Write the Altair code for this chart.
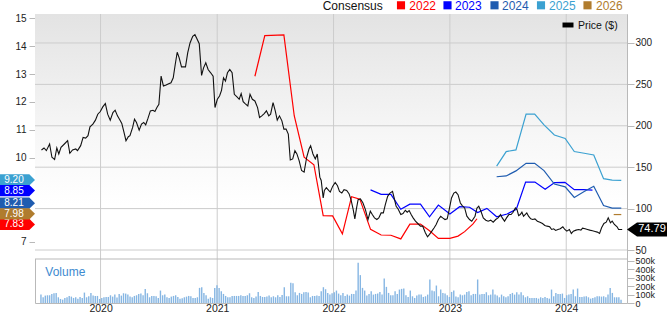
import altair as alt
import pandas as pd

# ---------------- data ----------------
# price line: decimal-year dates and prices ($)
price_t = [2019.492,2019.514,2019.534,2019.562,2019.582,2019.605,2019.624,2019.641,2019.660,2019.689,
           2019.717,2019.736,2019.759,2019.787,2019.802,2019.829,2019.850,2019.872,2019.892,2019.909,
           2019.934,2019.956,2019.976,2019.998,2020.019,2020.041,2020.061,2020.083,2020.106,2020.125,
           2020.145,2020.167,2020.182,2020.201,2020.218,2020.238,2020.252,2020.275,2020.291,2020.308,
           2020.331,2020.351,2020.370,2020.387,2020.407,2020.427,2020.449,2020.466,2020.483,2020.500,
           2020.519,2020.539,2020.562,2020.584,2020.604,2020.623,2020.640,2020.657,2020.674,2020.694,
           2020.728,2020.747,2020.767,2020.790,2020.809,2020.826,2020.846,2020.866,2020.883,2020.902,
           2020.922,2020.944,2020.965,2020.981,2021.001,2021.020,2021.037,2021.054,2021.071,2021.088,
           2021.108,2021.128,2021.147,2021.170,2021.189,2021.206,2021.223,2021.240,2021.263,2021.282,
           2021.302,2021.324,2021.347,2021.364,2021.383,2021.404,2021.423,2021.443,2021.459,2021.480,
           2021.499,2021.516,2021.535,2021.556,2021.573,2021.592,2021.611,2021.628,2021.649,2021.668,
           2021.685,2021.704,2021.725,2021.747,2021.769,2021.789,2021.803,2021.823,2021.843,2021.860,
           2021.882,2021.894,2021.911,2021.921,2021.938,2021.958,2021.972,
           2021.992,2022.014,2022.034,2022.051,2022.071,2022.090,2022.113,2022.133,2022.150,2022.169,
           2022.183,2022.198,2022.211,2022.231,2022.253,2022.274,2022.296,2022.316,2022.333,2022.352,
           2022.372,2022.389,2022.409,2022.428,2022.445,2022.465,2022.485,2022.507,2022.521,2022.538,
           2022.555,2022.578,2022.597,2022.617,2022.633,2022.650,2022.667,2022.684,2022.704,2022.724,
           2022.747,2022.766,2022.789,2022.808,2022.825,2022.845,2022.865,2022.882,2022.901,2022.921,
           2022.938,2022.958,2022.977,2022.994,2023.014,2023.034,2023.051,2023.070,2023.090,2023.106,
           2023.127,2023.146,2023.169,2023.188,
           2023.216,2023.233,2023.248,2023.267,2023.287,2023.309,2023.329,2023.351,2023.372,2023.394,
           2023.414,2023.436,2023.450,2023.470,2023.487,2023.507,2023.526,2023.543,2023.563,2023.577,
           2023.591,2023.605,2023.619,2023.633,2023.647,2023.661,2023.676,2023.695,2023.712,2023.731,
           2023.752,2023.774,2023.796,2023.816,2023.836,2023.858,2023.875,2023.892,2023.909,2023.929,
           2023.949,2023.971,2023.988,2024.005,2024.027,2024.044,2024.061,2024.084,2024.106,2024.126,
           2024.140,2024.162,2024.182,2024.202,2024.225,2024.247,2024.267,2024.286,2024.303,2024.323,
           2024.343,2024.360,2024.379,2024.394,2024.413,2024.436,2024.449,2024.470,2024.480]
price_v = [170.8,173.2,170.0,178.0,162.0,159.2,173.2,166.0,174.0,178.0,
           182.0,166.8,170.8,172.0,170.0,176.0,186.0,185.2,188.0,198.8,
           202.0,206.8,214.0,217.2,222.8,226.8,214.0,206.8,216.0,218.8,
           212.0,206.8,202.8,192.0,182.0,186.8,188.0,198.0,208.0,204.0,
           194.8,202.0,204.0,201.2,209.2,218.0,218.8,217.2,222.0,226.0,
           260.0,248.0,249.2,250.8,252.0,258.0,274.0,288.8,282.0,271.2,
           271.2,288.0,300.0,308.0,310.0,305.2,299.2,260.8,270.0,276.0,
           268.0,264.0,260.0,222.0,232.0,236.0,242.8,258.0,254.0,264.0,
           268.0,264.0,238.0,234.8,232.0,238.8,229.2,226.8,224.0,238.0,
           232.0,230.0,222.0,210.0,212.0,214.8,218.0,212.0,214.0,228.0,
           218.0,206.8,212.0,206.0,196.0,196.0,190.0,158.8,160.0,170.0,
           166.0,158.0,146.0,144.0,162.0,172.0,176.0,166.0,160.0,166.0,
           138.0,134.0,112.8,122.0,125.2,122.0,120.0,
           126.8,131.6,127.6,120.8,118.8,122.8,122.0,118.0,110.8,98.8,
           87.6,100.8,110.8,111.6,106.8,98.8,86.8,96.8,92.8,88.8,
           86.8,88.8,94.8,94.8,104.8,114.8,118.8,120.8,112.8,102.8,
           99.6,92.8,94.0,98.0,95.6,97.6,92.8,88.8,84.8,82.0,
           78.8,78.8,70.8,66.0,68.8,72.8,76.8,80.8,86.8,90.8,
           88.8,86.8,87.6,98.8,112.8,118.8,120.0,116.8,106.8,103.6,
           100.8,90.8,86.8,84.8,
           90.8,100.8,102.8,96.8,88.8,86.0,84.8,86.0,83.6,86.8,
           88.8,92.8,88.8,84.8,88.8,92.8,92.8,95.6,100.8,98.8,
           91.6,92.8,95.6,90.8,92.8,94.8,90.8,87.6,86.8,87.6,
           84.8,83.6,82.0,79.6,78.8,78.0,74.8,75.6,73.6,74.8,
           75.6,78.0,74.8,72.8,74.8,70.0,72.8,74.0,74.8,74.0,
           76.4,75.6,74.8,74.0,73.2,72.4,71.6,70.0,76.8,82.0,
           83.6,88.8,82.8,84.8,80.8,78.0,74.8,74.8,74.79]

# consensus EPS estimates per fiscal year (decimal-year dates, EPS)
cons_2022_t = [2021.324,2021.409,2021.573,2021.662,2021.747,2021.831,2021.911,2021.992,2022.076,2022.155,
               2022.226,2022.318,2022.409,2022.493,2022.578,2022.656,2022.747,2022.825,2022.901,2023.000,
               2023.070,2023.127,2023.197,2023.233]
cons_2022_v = [12.92,14.37,14.40,11.51,10.03,9.76,7.94,7.93,7.29,8.62,
               8.53,7.45,7.25,7.24,7.11,7.64,7.64,7.40,7.13,7.13,
               7.21,7.37,7.64,7.83]
cons_2023_t = [2022.318,2022.409,2022.493,2022.578,2022.656,2022.747,2022.825,2022.901,2023.000,2023.084,
               2023.169,2023.239,2023.318,2023.402,2023.492,2023.571,2023.651,2023.731,2023.819,2023.900,
               2023.989,2024.069,2024.147,2024.225]
cons_2023_v = [8.86,8.70,8.70,8.17,8.35,8.35,7.90,8.32,8.00,8.26,
               8.24,8.05,8.20,7.90,8.00,8.17,9.14,9.14,8.88,9.12,
               9.13,8.87,8.87,8.85]
cons_2024_t = [2023.402,2023.484,2023.568,2023.655,2023.729,2023.809,2023.898,2023.991,2024.069,2024.154,
               2024.236,2024.320,2024.394,2024.472]
cons_2024_v = [9.33,9.36,9.54,9.81,9.81,9.55,9.07,8.97,8.59,8.80,8.99,8.30,8.21,8.21]
cons_2025_t = [2023.402,2023.484,2023.568,2023.655,2023.729,2023.809,2023.898,2023.991,2024.069,2024.154,
               2024.236,2024.320,2024.394,2024.472]
cons_2025_v = [9.71,10.23,10.29,11.57,11.57,11.18,10.82,10.70,10.23,10.17,10.11,9.26,9.21,9.20]
cons_2026_t = [2024.407,2024.472]
cons_2026_v = [7.98,7.98]

# latest consensus values shown in the left tags
tag_text = {"2022": "7.83", "2023": "8.85", "2024": "8.21", "2025": "9.20", "2026": "7.98"}
last_price = 74.79

# weekly volume (thousands), first and second half of the window
volume_a = [100,68,88,92,92,108,116,120,68,48,40,60,68,84,76,60,68,52,72,60,
            124,68,80,120,88,84,84,48,60,68,72,72,92,76,100,64,108,88,116,112,
            100,76,68,84,92,108,112,92,168,116,68,84,84,80,60,148,92,100,68,60,
            76,84,92,72,52,56,68,76,84,80,60,60,68,180,188,120,92,52,68,60,
            180,212,180,140,108,84,68,68,84,84,84,84,92,84,84,92,116,68,60,76,
            132,84,72,72,76,88,68,80,68,92,72,96,188,80,80,240,236,128,92,120,
            108,128,132,124,68,84,84,88,84,140,188,164,120,100,116]
volume_b = [128,148,112,92,120,84,100,88,108,108,148,480,332,180,148,88,108,140,100,108,
            112,132,100,292,192,120,92,92,140,108,160,168,172,92,72,148,80,60,88,100,
            100,72,80,100,280,148,140,208,80,160,120,112,92,72,132,148,76,68,100,92,
            100,132,140,92,108,108,280,100,108,108,128,92,100,160,100,88,68,100,80,68,
            80,108,120,100,128,100,128,92,68,80,60,60,60,60,52,68,60,72,60,52,
            160,80,120,108,108,112,60,92,100,108,160,80,172,72,72,76,80,68,52,60,
            68,80,80,76,80,68,100,180,120,68,68,68,40]

year_ticks = [2020, 2021, 2022, 2023, 2024]
price_ticks = [50, 100, 150, 200, 250, 300]
eps_ticks = [7, 10, 11, 12, 13, 14, 15]   # 8 and 9 sit behind the value tags
volume_ticks = [0, 100000, 200000, 300000, 400000, 500000]

series_names = ["2022", "2023", "2024", "2025", "2026"]
series_colors = ["#ff0000", "#0000ff", "#1f5cb0", "#3ba1d1", "#b07c2e"]

# ---------------- helpers ----------------
def dec_to_ts(t):
    y = int(t)
    a = pd.Timestamp(year=y, month=1, day=1)
    b = pd.Timestamp(year=y + 1, month=1, day=1)
    return a + (b - a) * (t - y)

price_df = pd.DataFrame({"date": [dec_to_ts(t) for t in price_t], "price": price_v})

cons_rows = []
for name, ts, vs in [("2022", cons_2022_t, cons_2022_v), ("2023", cons_2023_t, cons_2023_v),
                     ("2024", cons_2024_t, cons_2024_v), ("2025", cons_2025_t, cons_2025_v),
                     ("2026", cons_2026_t, cons_2026_v)]:
    for t, v in zip(ts, vs):
        cons_rows.append({"series": name, "date": dec_to_ts(t), "eps": v})
cons_df = pd.DataFrame(cons_rows)

vol_vals = [v * 1000 for v in volume_a + volume_b]
vol_df = pd.DataFrame({"date": pd.date_range("2019-06-28", "2024-06-21", periods=len(vol_vals)),
                       "vol": vol_vals})

grid_df = pd.DataFrame({"date": [pd.Timestamp(year=y, month=1, day=1) for y in year_ticks]})
hgrid_df = pd.DataFrame({"price": price_ticks})

# tag dodge (cluster overlapping tags around their mean value)
def dodge(values, gap):
    order = sorted(range(len(values)), key=lambda i: -values[i])
    groups = [[i] for i in order]

    def pos(g):
        m = sum(values[i] for i in g) / len(g)
        n = len(g)
        return [m + gap * ((n - 1) / 2 - k) for k in range(n)]

    changed = True
    while changed:
        changed = False
        for a in range(len(groups) - 1):
            if pos(groups[a])[-1] - pos(groups[a + 1])[0] < gap:
                groups[a] = groups[a] + groups[a + 1]
                del groups[a + 1]
                changed = True
                break
    out = {}
    for g in groups:
        for i, p in zip(g, pos(g)):
            out[i] = p
    return [out[i] for i in range(len(values))]

tag_vals = [float(tag_text[s]) for s in series_names]
tag_pos = dodge(tag_vals, 0.38)
tag_df = pd.DataFrame({"series": series_names, "label": [tag_text[s] for s in series_names],
                       "pos": tag_pos})

# ---------------- scales ----------------
W, H = 592, 289
xscale = alt.Scale(domain=[alt.DateTime(year=2019, month=6, date=25),
                           alt.DateTime(year=2024, month=6, date=24)])
price_scale = alt.Scale(domain=[-14.0, 335.0], nice=False, zero=False)
eps_scale = alt.Scale(domain=[4.821, 15.143], nice=False, zero=False)
vol_scale = alt.Scale(domain=[0, 3440000], nice=False, zero=False)
color_scale = alt.Scale(domain=series_names, range=series_colors)

GRID = "#cccccc"
BORDER = "#b9b9b9"
TXT = "#222222"

xaxis = alt.Axis(values=[alt.DateTime(year=y, month=1, date=1) for y in year_ticks], format="%Y",
                 orient="bottom", tickSize=0, labelPadding=0, labelFontSize=10.5, domain=False,
                 grid=False, labelFlush=False, labelColor=TXT, title=None)
xenc = alt.X("date:T", scale=xscale, axis=xaxis, title=None)

# ---------------- layers ----------------
gradient = alt.Gradient(gradient="linear",
                        stops=[alt.GradientStop(color="#e3e3e3", offset=0),
                               alt.GradientStop(color="#f7f7f7", offset=0.5),
                               alt.GradientStop(color="#ffffff", offset=0.78),
                               alt.GradientStop(color="#ffffff", offset=1)],
                        x1=0, x2=0, y1=0, y2=1)
one = alt.Data(values=[{"k": 1}])

bg = alt.Chart(one).mark_rect(fill=gradient).encode(
    x=alt.value(0), x2=alt.value(W), y=alt.value(0), y2=alt.value(245))

hgrid = alt.Chart(hgrid_df).mark_rule(color=GRID, strokeWidth=1).encode(
    y=alt.Y("price:Q", scale=price_scale, axis=None))

vgrid = alt.Chart(grid_df).mark_rule(color=GRID, strokeWidth=1).encode(x=xenc)

sep = alt.Chart(one).mark_rule(color=BORDER, strokeWidth=1).encode(
    x=alt.value(0), x2=alt.value(W), y=alt.value(245))

vol_axis = alt.Axis(orient="right", values=volume_ticks, tickSize=7, labelPadding=1,
                    labelFontSize=9, domain=False, grid=False, labelOverlap=False,
                    labelFlush=False, labelColor=TXT, tickColor=BORDER, title=None,
                    labelExpr="datum.value == 0 ? '0' : (datum.value / 1000) + 'k'")
bars = alt.Chart(vol_df).mark_bar(size=1.4, color="#86b6e3").encode(
    x=xenc, y=alt.Y("vol:Q", scale=vol_scale, axis=vol_axis))

eps_axis = alt.Axis(orient="left", values=eps_ticks, tickSize=6, labelPadding=3,
                    labelFontSize=10, domain=False, grid=False, labelColor=TXT,
                    tickColor=BORDER, zindex=0, title=None)
cons = alt.Chart(cons_df).mark_line(strokeWidth=1.2).encode(
    x=xenc, y=alt.Y("eps:Q", scale=eps_scale, axis=eps_axis),
    color=alt.Color("series:N", scale=color_scale, legend=None))

price_axis = alt.Axis(orient="right", values=price_ticks, tickSize=7, labelPadding=1,
                      labelFontSize=10, domain=False, grid=False, labelColor=TXT,
                      tickColor=BORDER, labelOverlap=False, title=None)
price_line = alt.Chart(price_df).mark_line(color="#111111", strokeWidth=1.1).encode(
    x=xenc, y=alt.Y("price:Q", scale=price_scale, axis=price_axis))

# left tags with latest consensus values
tag_shape = "M-1,-0.32L0.674,-0.32L1,0L0.674,0.32L-1,0.32Z"
tag_layers = []
for s in ["2025", "2023", "2024", "2022", "2026"]:
    base = alt.Chart(tag_df).transform_filter(alt.datum.series == s)
    tag_layers.append(base.mark_point(shape=tag_shape, size=1225, filled=True, opacity=1,
                                      strokeWidth=0).encode(
        x=alt.value(-17.5), y=alt.Y("pos:Q", scale=eps_scale, axis=None),
        color=alt.Color("series:N", scale=color_scale, legend=None)))
    tag_layers.append(base.mark_text(color="white", fontSize=10, align="center",
                                     baseline="middle").encode(
        x=alt.value(-21), y=alt.Y("pos:Q", scale=eps_scale, axis=None), text="label:N"))

# right price tag
ptag_df = pd.DataFrame({"price": [last_price], "label": [f"{last_price:.2f}"]})
ptag = alt.Chart(ptag_df).mark_point(shape="M-1,0L-0.5,-0.35L1,-0.35L1,0.35L-0.5,0.35Z",
                                     size=1600, filled=True, opacity=1, color="#000000",
                                     strokeWidth=0).encode(
    x=alt.value(W + 20), y=alt.Y("price:Q", scale=price_scale, axis=None))
ptag_txt = alt.Chart(ptag_df).mark_text(color="white", fontSize=11, align="center",
                                        baseline="middle").encode(
    x=alt.value(W + 25), y=alt.Y("price:Q", scale=price_scale, axis=None), text="label:N")

# legend (top)
legend_df = pd.DataFrame({"series": series_names})
leg_sq_x = [366, 412.5, 459.5, 506, 552.5]
leg_tx_x = [374.3, 420, 467, 514, 561]
legend_layers = [alt.Chart(one).mark_text(text="Consensus", align="left", baseline="alphabetic",
                                          fontSize=12, color="#111111").encode(
    x=alt.value(287.7), y=alt.value(-4.5))]
for i, s in enumerate(series_names):
    base = alt.Chart(legend_df).transform_filter(alt.datum.series == s)
    legend_layers.append(base.mark_square(size=66, opacity=1).encode(
        x=alt.value(leg_sq_x[i]), y=alt.value(-8.7),
        color=alt.Color("series:N", scale=color_scale, legend=None)))
    legend_layers.append(base.mark_text(align="left", baseline="alphabetic", fontSize=12).encode(
        x=alt.value(leg_tx_x[i]), y=alt.value(-4.5), text="series:N",
        color=alt.Color("series:N", scale=color_scale, legend=None)))

price_leg = [
    alt.Chart(one).mark_point(shape="M-1,-0.45L1,-0.45L1,0.45L-1,0.45Z", size=121, filled=True,
                              opacity=1, color="#000000", strokeWidth=0).encode(
        x=alt.value(533), y=alt.value(11)),
    alt.Chart(one).mark_text(text="Price ($)", align="left", baseline="alphabetic", fontSize=10.5,
                             color="#111111").encode(x=alt.value(543), y=alt.value(15)),
]

vol_label = alt.Chart(one).mark_text(text="Volume", align="left", baseline="alphabetic",
                                     fontSize=12, color="#3d8ad0").encode(
    x=alt.value(10.3), y=alt.value(261.7))

layers = ([bg, hgrid, vgrid, sep, bars, cons, price_line] + tag_layers +
          [ptag, ptag_txt] + legend_layers + price_leg + [vol_label])

chart = alt.layer(*layers).resolve_scale(y="independent").properties(
    width=W, height=H,
    padding={"left": 35, "top": 14, "right": 40, "bottom": 10},
    autosize=alt.AutoSizeParams(type="none"),
).configure(font="Liberation Sans").configure_view(stroke=BORDER, strokeWidth=1)

chart.save("out.html", embed_options={"renderer": "svg", "actions": False})
